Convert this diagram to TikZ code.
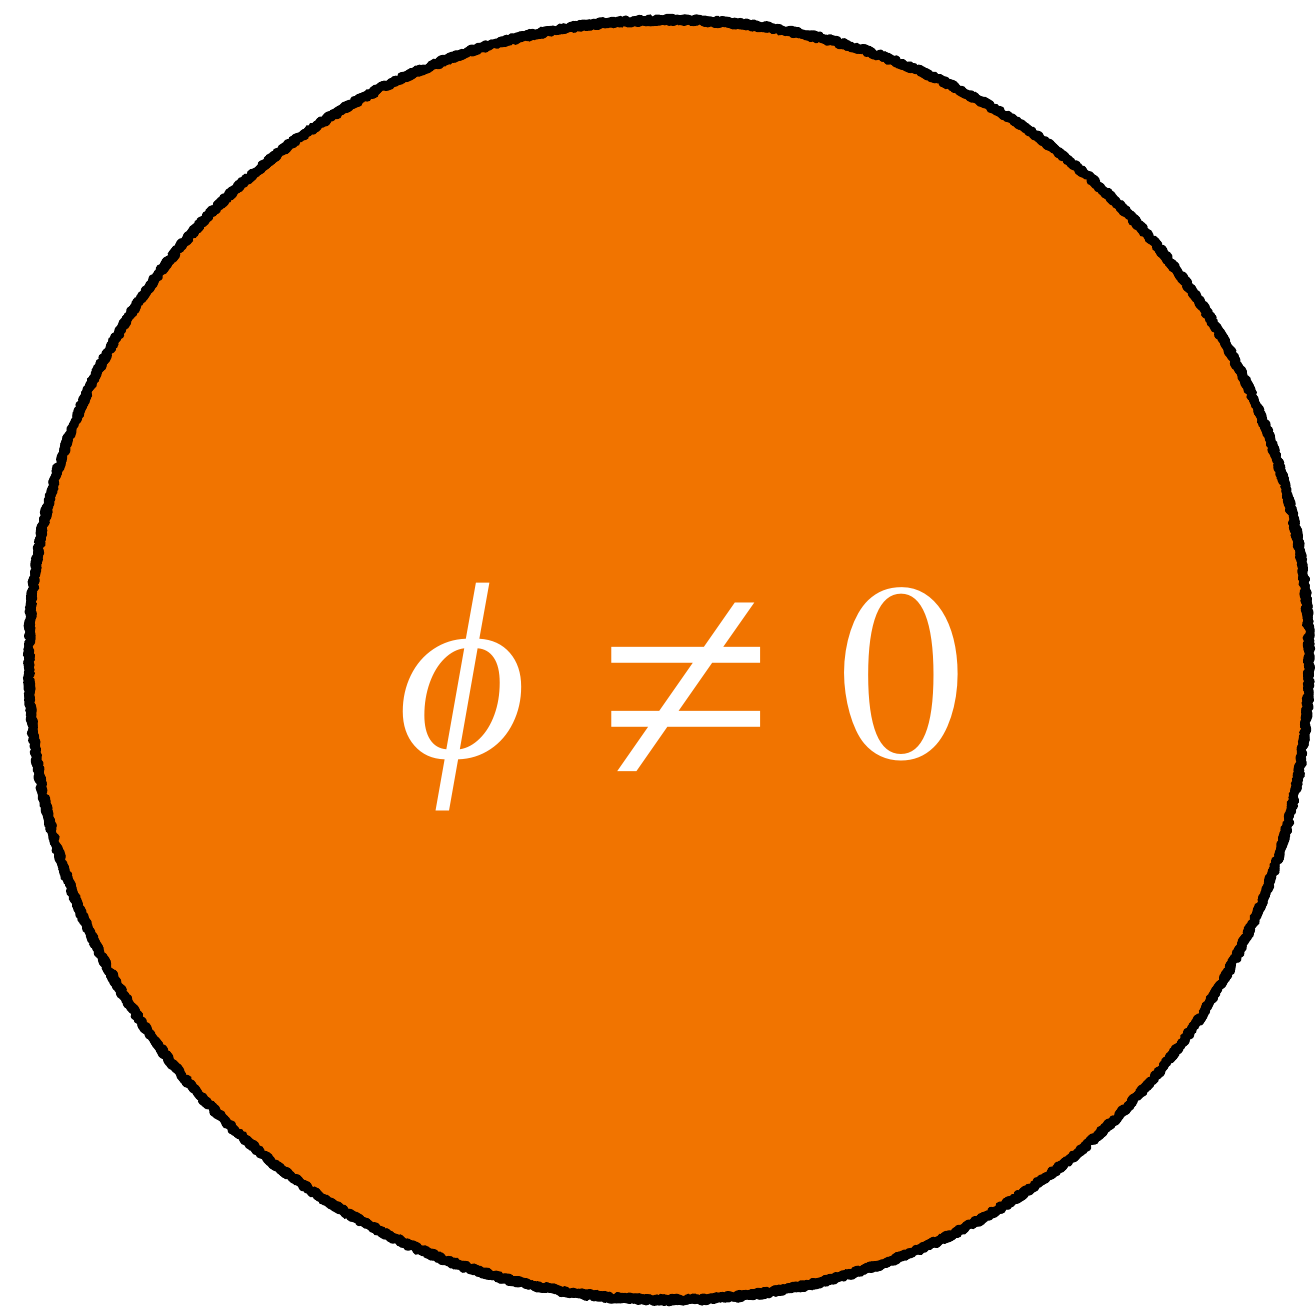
\documentclass[tikz,border=0pt]{standalone}
\usepackage{mathptmx}
\usepackage[no-math]{fontspec}
\newfontfamily\relfont{Liberation Serif}
\usetikzlibrary{decorations.pathmorphing}
\definecolor{phaseorange}{RGB}{241,116,0}
\newcommand{\bigneq}{\mathrel{\raisebox{-21pt}{\relfont\fontsize{182}{190}\selectfont ≠}}}
\newcommand{\phisym}{\hbox{\relfont\itshape ϕ}}
\tikzset{
	chalk/.style={draw=black, line width=4.4pt, line join=round,
		decorate, decoration={random steps, segment length=1.3pt, amplitude=1.4pt}},
	eqlabel/.style={text=white, anchor=base, inner sep=0pt, font=\fontsize{143}{150}\selectfont},
}
\begin{document}
\begin{tikzpicture}
	\useasboundingbox (0,0) rectangle (26.32,-26.14);
	\coordinate (disk) at (13.38,-13.2);
	\fill[phaseorange] (disk) circle (12.8);
	\foreach \k in {1,2,3}
		\draw[chalk] (disk) circle (12.8);
	\node[eqlabel] (eq) at (13.61,-15.14) {$\phisym\hspace{0.32cm} \bigneq \hspace{0.16cm}0$};
\end{tikzpicture}
\end{document}
